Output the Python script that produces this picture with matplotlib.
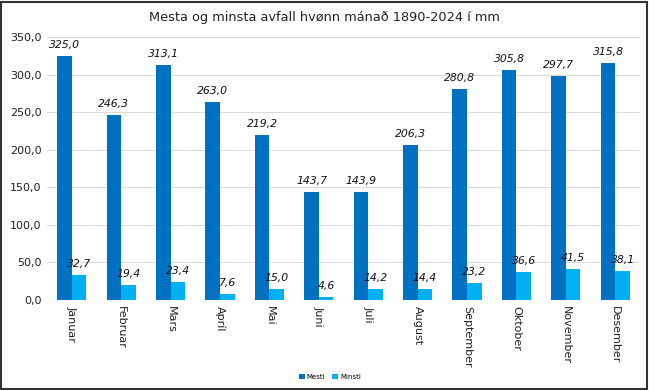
import numpy as np
import matplotlib.pyplot as plt
from matplotlib.patches import Rectangle

months = ['Januar', 'Februar', 'Mars', 'Apríl', 'Mai', 'Juni', 'Juli',
          'August', 'September', 'Oktober', 'November', 'Desember']
mesti = [325.0, 246.3, 313.1, 263.0, 219.2, 143.7, 143.9, 206.3, 280.8, 305.8, 297.7, 315.8]
minsti = [32.7, 19.4, 23.4, 7.6, 15.0, 4.6, 14.2, 14.4, 23.2, 36.6, 41.5, 38.1]

c_mesti = '#0070C0'
c_minsti = '#00B0F0'

fig = plt.figure(figsize=(6.49, 3.90), dpi=100)
ax = fig.add_axes([47 / 649, 90 / 390, (640 - 47) / 649, (300 - 37) / 390])

x = np.arange(len(months))
w = 0.295
b1 = ax.bar(x - w / 2, mesti, width=w, color=c_mesti, label='Mesti', zorder=2)
b2 = ax.bar(x + w / 2, minsti, width=w, color=c_minsti, label='Minsti', zorder=2)

fmt = lambda v: f'{v:.1f}'.replace('.', ',')
for bars, vals in ((b1, mesti), (b2, minsti)):
    for r, v in zip(bars, vals):
        ax.text(r.get_x() + r.get_width() / 2, v + 8, fmt(v), ha='center', va='bottom',
                fontsize=7.8, style='italic', color='#111111', zorder=3)

ax.set_xlim(-0.5, len(months) - 0.5)
ax.set_ylim(0, 350)
ax.set_yticks(np.arange(0, 351, 50))
ax.set_yticklabels([fmt(v) for v in np.arange(0, 351, 50)], fontsize=8, color='#222222')
ax.set_xticks(x)
ax.set_xticklabels(months, rotation=-90, fontsize=8, color='#222222')
ax.tick_params(length=0, pad=4)
ax.grid(axis='y', color='#d9d9d9', linewidth=0.7, zorder=0)
for s in ax.spines.values():
    s.set_visible(False)
ax.axhline(0, color='#d9d9d9', linewidth=0.8, zorder=1)

fig.text(0.5, 0.955, 'Mesta og minsta avfall hvønn mánað 1890-2024 í mm',
         ha='center', va='center', fontsize=9.3, color='#222222')

fig.legend(handles=[b1, b2], loc='center', bbox_to_anchor=(330 / 649, 1 - 377 / 390),
           ncol=2, frameon=False, fontsize=5, handlelength=0.8, handleheight=0.8,
           columnspacing=1.0, handletextpad=0.3)

fig.patches.append(Rectangle((0.002, 0.003), 0.995, 0.993, transform=fig.transFigure,
                             fill=False, edgecolor='#333333', linewidth=1.5))

fig.savefig('out.png', dpi=100)
